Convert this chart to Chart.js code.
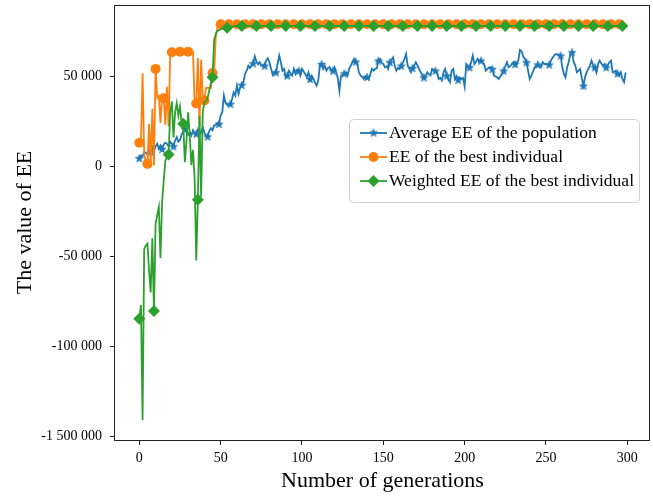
<!DOCTYPE html>
<html>
<head>
<meta charset="utf-8">
<script src="https://cdn.jsdelivr.net/npm/chart.js@4.4.1/dist/chart.umd.min.js"></script>
<style>
  html, body { margin: 0; padding: 0; background: #fff; }
  #wrap { width: 653px; height: 496px; }
</style>
</head>
<body>
<div id="wrap"><canvas id="chart" width="653" height="496"></canvas></div>
<script>
// values, one per generation (0..299)
const avgEE = [
  4500, 6000, 5500, 7800, 7500, 6500, 9000, 8000, 10500, 8500,
  11000, 12400, 9600, 11500, 9600, 12000, 13000, 12400, 11000, 13500,
  12500, 11000, 14200, 16100, 13500, 14500, 17500, 19000, 20700, 18500,
  17500, 19000, 17000, 20000, 18500, 18000, 20500, 17500, 19000, 21500,
  18500, 17000, 16500, 19500, 21000, 20000, 22600, 22600, 24000, 23500,
  28100, 30000, 39200, 35100, 34000, 33600, 34600, 37300, 41000, 39200,
  44700, 40100, 43800, 45100, 46600, 51200, 53000, 55800, 54500, 56200,
  57100, 61000, 58000, 56500, 57700, 55800, 56000, 55800, 58600, 59900,
  57700, 54000, 50600, 52100, 52100, 56700, 61400, 57700, 53000, 54000,
  49300, 50300, 53000, 51500, 50300, 54000, 51200, 53500, 53000, 50300,
  54000, 52500, 51200, 49300, 52100, 48400, 50300, 48400, 46500, 44700,
  47500, 55800, 56700, 54000, 55800, 53000, 54500, 54900, 53500, 53000,
  54900, 52100, 49000, 41900, 50300, 50600, 51500, 52100, 50300, 54000,
  55800, 57700, 59500, 58000, 56700, 52100, 50300, 49500, 48400, 49900,
  49500, 48400, 51200, 54000, 53000, 54000, 54300, 58600, 59500, 57500,
  56700, 54900, 55500, 54000, 57700, 59000, 60400, 55800, 53000, 54500,
  54000, 55800, 57500, 59500, 62300, 55800, 54000, 52100, 54500, 55800,
  57700, 56000, 54000, 52100, 50500, 49300, 50000, 52100, 51000, 50300,
  54000, 53500, 53000, 52100, 48400, 49000, 47500, 52100, 54000, 50300,
  48000, 46600, 53000, 54000, 48400, 50000, 47900, 49300, 48400, 49000,
  44200, 56700, 55500, 54900, 57700, 61400, 56700, 58000, 59500, 57700,
  58600, 57500, 56700, 53000, 54000, 54900, 55000, 54000, 50300, 49800,
  49300, 48400, 50000, 51200, 53000, 55500, 57700, 54900, 55500, 56700,
  57700, 56700, 57500, 58600, 64500, 63800, 61000, 59500, 57700, 53000,
  48400, 50300, 52500, 54900, 55800, 56400, 55500, 54900, 57700, 56700,
  56700, 56500, 56400, 58600, 60000, 61400, 62300, 62000, 61900, 61400,
  55000, 51200, 49300, 54900, 58000, 62300, 63200, 58000, 55800, 52100,
  53000, 54000, 49000, 44700, 49300, 52100, 54000, 55800, 58600, 56000,
  54900, 52100, 56700, 58600, 57000, 55800, 56700, 54900, 56000, 57700,
  58600, 52100, 52500, 53000, 51500, 50300, 52100, 48400, 46600, 52000
];

const bestEE = [
  13000, 13000, 51500, 6000, 3000, 1300, 23500, 1000, 31800, 400,
  54000, 38000, 39000, 24000, 39000, 37700, 23000, 44000, 22000, 63000,
  63200, 63200, 63200, 63200, 63200, 63500, 63500, 63500, 63500, 63500,
  63500, 63500, 63500, 63500, 34600, 34800, 60000, 22000, 59000, 38000,
  36500, 43500, 43500, 43500, 43500, 51700, 52000, 72000, 77000, 78000,
  78800, 78800, 78800, 78800, 78800, 78800, 78800, 78800, 78800, 78800,
  78800, 78800, 78800, 78800, 78800, 78800, 78800, 78800, 78800, 78800,
  78800, 78800, 78800, 78800, 78800, 78800, 78800, 78800, 78800, 78800,
  78800, 78800, 78800, 78800, 78800, 78800, 78800, 78800, 78800, 78800,
  78800, 78800, 78800, 78800, 78800, 78800, 78800, 78800, 78800, 78800,
  78800, 78800, 78800, 78800, 78800, 78800, 78800, 78800, 78800, 78800,
  78800, 78800, 78800, 78800, 78800, 78800, 78800, 78800, 78800, 78800,
  78800, 78800, 78800, 78800, 78800, 78800, 78800, 78800, 78800, 78800,
  78800, 78800, 78800, 78800, 78800, 78800, 78800, 78800, 78800, 78800,
  78800, 78800, 78800, 78800, 78800, 78800, 78800, 78800, 78800, 78800,
  78800, 78800, 78800, 78800, 78800, 78800, 78800, 78800, 78800, 78800,
  78800, 78800, 78800, 78800, 78800, 78800, 78800, 78800, 78800, 78800,
  78800, 78800, 78800, 78800, 78800, 78800, 78800, 78800, 78800, 78800,
  78800, 78800, 78800, 78800, 78800, 78800, 78800, 78800, 78800, 78800,
  78800, 78800, 78800, 78800, 78800, 78800, 78800, 78800, 78800, 78800,
  78800, 78800, 78800, 78800, 78800, 78800, 78800, 78800, 78800, 78800,
  78800, 78800, 78800, 78800, 78800, 78800, 78800, 78800, 78800, 78800,
  78800, 78800, 78800, 78800, 78800, 78800, 78800, 78800, 78800, 78800,
  78800, 78800, 78800, 78800, 78800, 78800, 78800, 78800, 78800, 78800,
  78800, 78800, 78800, 78800, 78800, 78800, 78800, 78800, 78800, 78800,
  78800, 78800, 78800, 78800, 78800, 78800, 78800, 78800, 78800, 78800,
  78800, 78800, 78800, 78800, 78800, 78800, 78800, 78800, 78800, 78800,
  78800, 78800, 78800, 78800, 78800, 78800, 78800, 78800, 78800, 78800,
  78800, 78800, 78800, 78800, 78800, 78800, 78800, 78800, 78800, 78800,
  78800, 78800, 78800, 78800, 78800, 78800, 78800, 78800, 78800, 78800
];

const weightedEE = [
  -84600, -77000, -141000, -46000, -44000, -43000, -58000, -70000, -40000, -80400,
  -32000, -27000, -22700, -51000, -20000, -8000, 3000, 5000, 6500, 30000,
  36000, 16000, 30000, 35000, 28000, 33000, 24000, 23500, 2200, 14000,
  29900, 17000, 600, 9000, -7000, -52300, -18600, 28000, -17000, 30000,
  35500, 36000, 38000, 42000, 46000, 49300, 70000, 73500, 75000, 75500,
  76000, 76200, 76400, 76600, 76800, 77000, 77200, 77400, 77800, 77800,
  77800, 77800, 77800, 77800, 77800, 77800, 77800, 77800, 77800, 77800,
  77800, 77800, 77800, 77800, 77800, 77800, 77800, 77800, 77800, 77800,
  77800, 77800, 77800, 77800, 77800, 77800, 77800, 77800, 77800, 77800,
  77800, 77800, 77800, 77800, 77800, 77800, 77800, 77800, 77800, 77800,
  77800, 77800, 77800, 77800, 77800, 77800, 77800, 77800, 77800, 77800,
  77800, 77800, 77800, 77800, 77800, 77800, 77800, 77800, 77800, 77800,
  77800, 77800, 77800, 77800, 77800, 77800, 77800, 77800, 77800, 77800,
  77800, 77800, 77800, 77800, 77800, 77800, 77800, 77800, 77800, 77800,
  77800, 77800, 77800, 77800, 77800, 77800, 77800, 77800, 77800, 77800,
  77800, 77800, 77800, 77800, 77800, 77800, 77800, 77800, 77800, 77800,
  77800, 77800, 77800, 77800, 77800, 77800, 77800, 77800, 77800, 77800,
  77800, 77800, 77800, 77800, 77800, 77800, 77800, 77800, 77800, 77800,
  77800, 77800, 77800, 77800, 77800, 77800, 77800, 77800, 77800, 77800,
  77800, 77800, 77800, 77800, 77800, 77800, 77800, 77800, 77800, 77800,
  77800, 77800, 77800, 77800, 77800, 77800, 77800, 77800, 77800, 77800,
  77800, 77800, 77800, 77800, 77800, 77800, 77800, 77800, 77800, 77800,
  77800, 77800, 77800, 77800, 77800, 77800, 77800, 77800, 77800, 77800,
  77800, 77800, 77800, 77800, 77800, 77800, 77800, 77800, 77800, 77800,
  77800, 77800, 77800, 77800, 77800, 77800, 77800, 77800, 77800, 77800,
  77800, 77800, 77800, 77800, 77800, 77800, 77800, 77800, 77800, 77800,
  77800, 77800, 77800, 77800, 77800, 77800, 77800, 77800, 77800, 77800,
  77800, 77800, 77800, 77800, 77800, 77800, 77800, 77800, 77800, 77800,
  77800, 77800, 77800, 77800, 77800, 77800, 77800, 77800, 77800, 77800,
  77800, 77800, 77800, 77800, 77800, 77800, 77800, 77800, 77800, 77800
];

const seriesNames = [
  'Average EE of the population',
  'EE of the best individual',
  'Weighted EE of the best individual'
];
const seriesColors = ['#1f77b4', '#ff7f0e', '#2ca02c'];
const markEvery = [7, 5, 9];

const xTicks = [0, 50, 100, 150, 200, 250, 300];
const yTicks = [-150000, -100000, -50000, 0, 50000];
const yTickLabels = ['-1 500 000', '-100 000', '-50 000', '0', '50 000'];

const SERIF = "'Liberation Serif', 'Times New Roman', serif";

document.addEventListener('DOMContentLoaded', function() {
  Chart.defaults.font.family = SERIF;
  Chart.defaults.color = '#000';
  drawChart();
});

// filled five-point star like the matplotlib '*' marker
function makeStar(color, outer, inner) {
  const size = 12;
  const c = document.createElement('canvas');
  c.width = size;
  c.height = size;
  const g = c.getContext('2d');
  g.translate(size / 2, size / 2 + 0.5);
  g.beginPath();
  for (let i = 0; i < 10; i++) {
    const r = i % 2 === 0 ? outer : inner;
    const a = -Math.PI / 2 + i * Math.PI / 5;
    if (i === 0) g.moveTo(r * Math.cos(a), r * Math.sin(a));
    else g.lineTo(r * Math.cos(a), r * Math.sin(a));
  }
  g.closePath();
  g.fillStyle = color;
  g.fill();
  g.strokeStyle = color;
  g.lineWidth = 0.6;
  g.stroke();
  return c;
}

function toPoints(values) {
  return values.map((v, i) => ({ x: i, y: v }));
}

// keep the plot box where the reference has it
function noPadding(s) {
  s.paddingTop = 0;
  s.paddingBottom = 0;
  s.paddingLeft = 0;
  s.paddingRight = 0;
}

function drawChart() {
  const star = makeStar(seriesColors[0], 4.3, 1.8);
  const pointStyles = [star, 'circle', 'rectRot'];
  const pointSizes = [4, 5, 6];
  const series = [avgEE, bestEE, weightedEE];

  const datasets = series.map((values, k) => ({
    label: seriesNames[k],
    data: toPoints(values),
    borderColor: seriesColors[k],
    backgroundColor: seriesColors[k],
    borderWidth: 1.8,
    tension: 0,
    pointStyle: pointStyles[k],
    pointRadius: ctx => (ctx.dataIndex % markEvery[k] === 0 ? pointSizes[k] : 0),
    pointBorderWidth: 0,
    pointHoverRadius: 0,
    order: 3 - k
  }));

  // frame around the plot and the legend box inside it
  const frameAndLegend = {
    id: 'frameAndLegend',
    afterDraw(chart) {
      const { ctx, chartArea: a } = chart;
      ctx.save();
      ctx.strokeStyle = '#222';
      ctx.lineWidth = 1;
      ctx.strokeRect(a.left - 0.5, a.top + 0.5, a.right - a.left, a.bottom - a.top);

      const bx = a.right - 301, by = a.top + 114, bw = 290, bh = 83;
      ctx.beginPath();
      ctx.roundRect(bx + 0.5, by + 0.5, bw, bh, 4);
      ctx.fillStyle = 'rgba(255,255,255,0.85)';
      ctx.fill();
      ctx.strokeStyle = '#d0d0d0';
      ctx.stroke();

      ctx.font = '17.5px ' + SERIF;
      ctx.textBaseline = 'middle';
      ctx.textAlign = 'left';
      for (let k = 0; k < 3; k++) {
        const ry = by + 14 + k * 24;
        ctx.strokeStyle = seriesColors[k];
        ctx.lineWidth = 1.8;
        ctx.beginPath();
        ctx.moveTo(bx + 11, ry);
        ctx.lineTo(bx + 38, ry);
        ctx.stroke();
        const mx = bx + 24.5;
        ctx.fillStyle = seriesColors[k];
        if (k === 0) {
          ctx.drawImage(star, mx - 6, ry - 6.5);
        } else if (k === 1) {
          ctx.beginPath();
          ctx.arc(mx, ry, 5, 0, Math.PI * 2);
          ctx.fill();
        } else {
          ctx.beginPath();
          ctx.moveTo(mx, ry - 6);
          ctx.lineTo(mx + 6, ry);
          ctx.lineTo(mx, ry + 6);
          ctx.lineTo(mx - 6, ry);
          ctx.closePath();
          ctx.fill();
        }
        ctx.fillStyle = '#000';
        ctx.fillText(seriesNames[k], bx + 40, ry);
      }
      ctx.restore();
    }
  };

  new Chart(document.getElementById('chart'), {
    type: 'line',
    data: { datasets: datasets },
    options: {
      responsive: false,
      animation: false,
      devicePixelRatio: 1,
      layout: {
        autoPadding: false,
        padding: { top: 5, right: 3, left: 0, bottom: 0 }
      },
      plugins: {
        legend: { display: false },
        tooltip: { enabled: false }
      },
      scales: {
        x: {
          type: 'linear',
          min: -14.95,
          max: 313.95,
          afterBuildTicks: s => { s.ticks = xTicks.map(v => ({ value: v })); },
          afterFit: s => { s.height = 56; noPadding(s); },
          ticks: {
            font: { size: 14 },
            color: '#000',
            padding: 5,
            maxRotation: 0,
            autoSkip: false,
            callback: v => String(v)
          },
          grid: { drawOnChartArea: false, tickLength: 5, tickColor: '#222' },
          border: { display: false },
          title: {
            display: true,
            text: 'Number of generations',
            font: { size: 22 },
            color: '#000',
            padding: { top: 0, bottom: 2 }
          }
        },
        y: {
          type: 'linear',
          min: -151950,
          max: 89450,
          afterBuildTicks: s => { s.ticks = yTicks.map(v => ({ value: v })); },
          afterFit: s => { s.width = 115; noPadding(s); },
          ticks: {
            font: { size: 14 },
            color: '#000',
            padding: 8,
            autoSkip: false,
            callback: v => yTickLabels[yTicks.indexOf(v)]
          },
          grid: { drawOnChartArea: false, tickLength: 5, tickColor: '#222' },
          border: { display: false },
          title: {
            display: true,
            text: 'The value of EE',
            font: { size: 22 },
            color: '#000',
            padding: { top: 12, bottom: 0 }
          }
        }
      }
    },
    plugins: [frameAndLegend]
  });
}
</script>
</body>
</html>
